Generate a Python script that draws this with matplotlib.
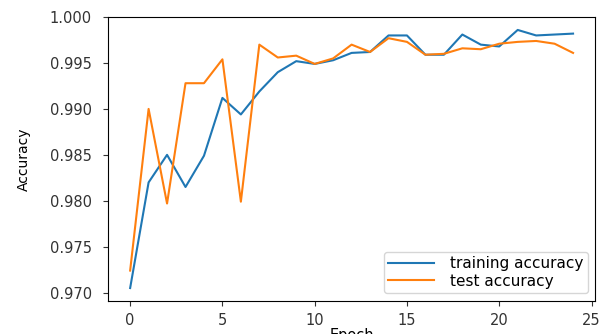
import numpy as np
import matplotlib.pyplot as plt

# accuracy per epoch
epochs = np.arange(25)
train_acc = [0.9705, 0.9820, 0.9850, 0.9815, 0.9849, 0.9912, 0.9894, 0.9919,
             0.9940, 0.9952, 0.9949, 0.9953, 0.9961, 0.9962, 0.9980, 0.9980,
             0.9959, 0.9959, 0.9981, 0.9970, 0.9968, 0.9986, 0.9980, 0.9981,
             0.9982]
test_acc = [0.9724, 0.9900, 0.9797, 0.9928, 0.9928, 0.9954, 0.9799, 0.9970,
            0.9956, 0.9958, 0.9949, 0.9955, 0.9970, 0.9962, 0.9977, 0.9973,
            0.9959, 0.9960, 0.9966, 0.9965, 0.9971, 0.9973, 0.9974, 0.9971,
            0.9961]

fig = plt.figure(figsize=(6.0, 3.34), dpi=100)
ax = fig.add_axes([0.18, 0.099, 0.812, 0.85])

ax.plot(epochs, train_acc, label='training accuracy')
ax.plot(epochs, test_acc, label='test accuracy')

ax.set_xticks([0, 5, 10, 15, 20, 25])
ax.set_yticks([0.970, 0.975, 0.980, 0.985, 0.990, 0.995, 1.000])
ax.tick_params(labelsize=10.5, colors='#333333')
ax.tick_params(axis='y', pad=8)
ax.tick_params(axis='x', pad=5)
ax.set_xlabel('Epoch', fontsize=10.5, labelpad=0)
ax.set_ylabel('Accuracy', fontsize=10, labelpad=14)
ax.legend(loc='lower right', fontsize=11, labelspacing=0.15, borderpad=0.3,
          handlelength=3, handletextpad=1.0)

fig.savefig('out.png', dpi=100)
